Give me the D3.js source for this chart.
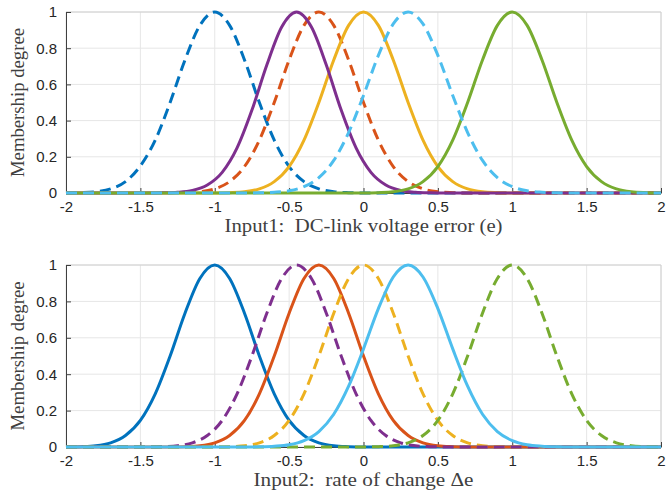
<!DOCTYPE html>
<html>
<head>
<meta charset="utf-8">
<script src="https://cdn.jsdelivr.net/npm/d3@7"></script>
<style>
  html, body { margin: 0; padding: 0; background: #fff; }
  svg { display: block; }
  .lbl { font-family: "Liberation Serif", "Times New Roman", serif; font-size: 18px; fill: #404040; white-space: pre; }
</style>
</head>
<body>
<div id="chart"></div>
<script>
const xTicks = [-2, -1.5, -1, -0.5, 0, 0.5, 1, 1.5, 2];
const yTicks = [0, 0.2, 0.4, 0.6, 0.8, 1];

// Input1 membership curves, [x, degree]
const e1Blue = [[-2, 0], [-1.9, 0.002], [-1.8, 0.007], [-1.7, 0.023], [-1.6, 0.063], [-1.5, 0.15], [-1.4, 0.292], [-1.3, 0.5], [-1.2, 0.735], [-1.1, 0.926], [-1, 1], [-0.9, 0.926], [-0.8, 0.735], [-0.7, 0.5], [-0.6, 0.292], [-0.5, 0.146], [-0.4, 0.063], [-0.3, 0.023], [-0.2, 0.007], [-0.1, 0.002], [0, 0], [2, 0]];
const e1Orange = [[-2, 0], [-1.3, 0], [-1.2, 0.002], [-1.1, 0.007], [-1, 0.023], [-0.9, 0.063], [-0.8, 0.146], [-0.7, 0.292], [-0.6, 0.5], [-0.5, 0.735], [-0.4, 0.926], [-0.3, 1], [-0.2, 0.926], [-0.1, 0.735], [0, 0.5], [0.1, 0.292], [0.2, 0.146], [0.3, 0.063], [0.4, 0.023], [0.5, 0.007], [0.6, 0.002], [0.7, 0], [2, 0]];
const e1Yellow = [[-2, 0], [-1, 0], [-0.9, 0.002], [-0.8, 0.007], [-0.7, 0.023], [-0.6, 0.063], [-0.5, 0.146], [-0.4, 0.292], [-0.3, 0.5], [-0.2, 0.735], [-0.1, 0.926], [0, 1], [0.1, 0.926], [0.2, 0.735], [0.3, 0.5], [0.4, 0.292], [0.5, 0.146], [0.6, 0.063], [0.7, 0.023], [0.8, 0.007], [0.9, 0.002], [1, 0], [2, 0]];
const e1Purple = [[-2, 0], [-1.45, 0], [-1.35, 0.001], [-1.25, 0.004], [-1.15, 0.014], [-1.05, 0.044], [-0.95, 0.114], [-0.85, 0.249], [-0.75, 0.458], [-0.65, 0.707], [-0.55, 0.917], [-0.45, 1], [-0.35, 0.917], [-0.25, 0.707], [-0.15, 0.458], [-0.05, 0.249], [0.05, 0.114], [0.15, 0.044], [0.25, 0.014], [0.35, 0.004], [0.45, 0.001], [0.55, 0], [2, 0]];
const e1Green = [[-2, 0], [0, 0], [0.1, 0.002], [0.2, 0.007], [0.3, 0.023], [0.4, 0.063], [0.5, 0.146], [0.6, 0.292], [0.7, 0.5], [0.8, 0.735], [0.9, 0.926], [1, 1], [1.1, 0.926], [1.2, 0.735], [1.3, 0.5], [1.4, 0.292], [1.5, 0.146], [1.6, 0.063], [1.7, 0.023], [1.8, 0.007], [1.9, 0.002], [2, 0]];
const e1Cyan = [[-2, 0], [-0.8, 0], [-0.7, 0.001], [-0.6, 0.004], [-0.5, 0.012], [-0.4, 0.035], [-0.3, 0.085], [-0.2, 0.18], [-0.1, 0.334], [0, 0.539], [0.1, 0.76], [0.2, 0.934], [0.3, 1], [0.4, 0.934], [0.5, 0.76], [0.6, 0.539], [0.7, 0.334], [0.8, 0.18], [0.9, 0.085], [1, 0.035], [1.1, 0.012], [1.2, 0.004], [1.3, 0.001], [1.4, 0], [2, 0]];

// Input2 membership curves
const de2Blue = [[-2, 0], [-1.9, 0.002], [-1.8, 0.007], [-1.7, 0.023], [-1.6, 0.063], [-1.5, 0.146], [-1.4, 0.292], [-1.3, 0.5], [-1.2, 0.735], [-1.1, 0.926], [-1, 1], [-0.9, 0.926], [-0.8, 0.735], [-0.7, 0.5], [-0.6, 0.292], [-0.5, 0.146], [-0.4, 0.063], [-0.3, 0.023], [-0.2, 0.007], [-0.1, 0.002], [0, 0], [2, 0]];
const de2Orange = [[-2, 0], [-1.3, 0], [-1.2, 0.002], [-1.1, 0.007], [-1, 0.023], [-0.9, 0.063], [-0.8, 0.146], [-0.7, 0.292], [-0.6, 0.5], [-0.5, 0.735], [-0.4, 0.926], [-0.3, 1], [-0.2, 0.926], [-0.1, 0.735], [0, 0.5], [0.1, 0.292], [0.2, 0.146], [0.3, 0.063], [0.4, 0.023], [0.5, 0.007], [0.6, 0.002], [0.7, 0], [2, 0]];
const de2Yellow = [[-2, 0], [-1, 0], [-0.9, 0.002], [-0.8, 0.007], [-0.7, 0.023], [-0.6, 0.063], [-0.5, 0.146], [-0.4, 0.292], [-0.3, 0.5], [-0.2, 0.735], [-0.1, 0.926], [0, 1], [0.1, 0.926], [0.2, 0.735], [0.3, 0.5], [0.4, 0.292], [0.5, 0.146], [0.6, 0.063], [0.7, 0.023], [0.8, 0.007], [0.9, 0.002], [1, 0], [2, 0]];
const de2Purple = [[-2, 0], [-1.45, 0], [-1.35, 0.002], [-1.25, 0.007], [-1.15, 0.023], [-1.05, 0.063], [-0.95, 0.146], [-0.85, 0.292], [-0.75, 0.5], [-0.65, 0.735], [-0.55, 0.926], [-0.45, 1], [-0.35, 0.926], [-0.25, 0.735], [-0.15, 0.5], [-0.05, 0.292], [0.05, 0.146], [0.15, 0.063], [0.25, 0.023], [0.35, 0.007], [0.45, 0.002], [0.55, 0], [2, 0]];
const de2Green = [[-2, 0], [0, 0], [0.1, 0.002], [0.2, 0.007], [0.3, 0.023], [0.4, 0.063], [0.5, 0.146], [0.6, 0.292], [0.7, 0.5], [0.8, 0.735], [0.9, 0.926], [1, 1], [1.1, 0.926], [1.2, 0.735], [1.3, 0.5], [1.4, 0.292], [1.5, 0.146], [1.6, 0.063], [1.7, 0.023], [1.8, 0.007], [1.9, 0.002], [2, 0]];
const de2Cyan = [[-2, 0], [-0.8, 0], [-0.7, 0.001], [-0.6, 0.004], [-0.5, 0.012], [-0.4, 0.035], [-0.3, 0.085], [-0.2, 0.18], [-0.1, 0.334], [0, 0.539], [0.1, 0.76], [0.2, 0.934], [0.3, 1], [0.4, 0.934], [0.5, 0.76], [0.6, 0.539], [0.7, 0.334], [0.8, 0.18], [0.9, 0.085], [1, 0.035], [1.1, 0.012], [1.2, 0.004], [1.3, 0.001], [1.4, 0], [2, 0]];

const colors = ['#0072BD', '#D95319', '#EDB120', '#7E2F8E', '#77AC30', '#4DBEEE'];

// plotted in matlab colour order, later lines sit on top
const topCurves = [
    {data: e1Blue, dashed: true},
    {data: e1Orange, dashed: true},
    {data: e1Yellow, dashed: false},
    {data: e1Purple, dashed: false},
    {data: e1Green, dashed: false},
    {data: e1Cyan, dashed: true}
];
const bottomCurves = [
    {data: de2Blue, dashed: false},
    {data: de2Orange, dashed: false},
    {data: de2Yellow, dashed: true},
    {data: de2Purple, dashed: true},
    {data: de2Green, dashed: true},
    {data: de2Cyan, dashed: false}
];

const W = 667, H = 490;
const svg = d3.select('#chart').append('svg')
    .attr('width', W)
    .attr('height', H);

const x = d3.scaleLinear().domain([-2, 2]).range([66, 661]);

function panel(curves, top, bottom, xlabel, xlabelLen) {
    const y = d3.scaleLinear().domain([0, 1]).range([bottom, top]);
    const g = svg.append('g');

    // grid
    g.append('g').selectAll('line').data(xTicks).join('line')
        .attr('x1', d => x(d)).attr('x2', d => x(d))
        .attr('y1', top).attr('y2', bottom)
        .attr('stroke', '#e6e6e6').attr('stroke-width', 1);
    g.append('g').selectAll('line').data(yTicks).join('line')
        .attr('x1', x(-2)).attr('x2', x(2))
        .attr('y1', d => y(d)).attr('y2', d => y(d))
        .attr('stroke', '#e6e6e6').attr('stroke-width', 1);

    // box (top / right light)
    g.append('path')
        .attr('d', `M${x(-2)},${top}H${x(2)}V${bottom}`)
        .attr('fill', 'none').attr('stroke', '#d0d0d0');

    const xAxis = d3.axisBottom(x).tickValues(xTicks).tickFormat(d => String(d))
        .tickSizeInner(-5).tickSizeOuter(0).tickPadding(8);
    const yAxis = d3.axisLeft(y).tickValues(yTicks).tickFormat(d => String(d))
        .tickSizeInner(-5).tickSizeOuter(0).tickPadding(9);

    const gx = g.append('g').attr('transform', `translate(0,${bottom})`).call(xAxis);
    const gy = g.append('g').attr('transform', `translate(${x(-2)},0)`).call(yAxis);
    [gx, gy].forEach(a => {
        a.attr('font-family', '"Liberation Sans", Arial, sans-serif').attr('font-size', 15);
        a.select('.domain').attr('stroke', '#404040');
        a.selectAll('.tick line').attr('stroke', '#404040');
        a.selectAll('.tick text').attr('fill', '#262626');
    });

    const line = d3.line()
        .x(d => x(d[0]))
        .y(d => y(d[1]))
        .curve(d3.curveMonotoneX);

    g.append('g').selectAll('path').data(curves).join('path')
        .attr('d', d => line(d.data))
        .attr('fill', 'none')
        .attr('stroke', (d, i) => colors[i])
        .attr('stroke-width', 3)
        .attr('stroke-dasharray', d => d.dashed ? '11,6' : null);

    g.append('text').attr('class', 'lbl')
        .attr('x', x(0)).attr('y', bottom + 39)
        .attr('text-anchor', 'middle')
        .attr('textLength', xlabelLen).attr('lengthAdjust', 'spacingAndGlyphs')
        .text(xlabel);

    g.append('text').attr('class', 'lbl')
        .attr('transform', `translate(24,${(top + bottom) / 2}) rotate(-90)`)
        .attr('text-anchor', 'middle')
        .attr('textLength', 149).attr('lengthAdjust', 'spacingAndGlyphs')
        .text('Membership degree');
}

panel(topCurves, 12, 193, 'Input1:  DC-link voltage error (e)', 278);
panel(bottomCurves, 265, 447, 'Input2:  rate of change \u0394e', 220);
</script>
</body>
</html>
